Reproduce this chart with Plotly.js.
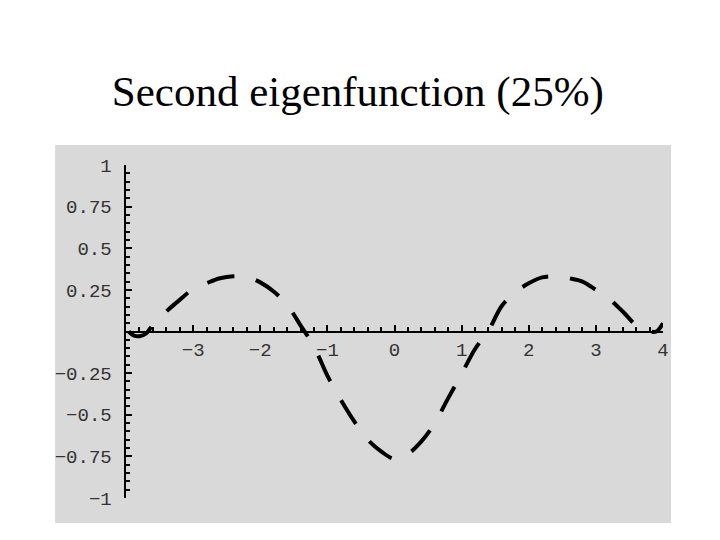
<!DOCTYPE html>
<html>
<head>
<meta charset="utf-8">
<script src="https://cdn.plot.ly/plotly-3.0.1.min.js"></script>
<style>
  body { margin: 0; background: #fff; }
  #chart { width: 720px; height: 540px; }
</style>
</head>
<body>
<div id="chart"></div>
<script>
// values
const xs = [-3.96, -3.88, -3.8, -3.7, -3.6, -3.4, -3.2, -3.0, -2.8, -2.6, -2.4, -2.2, -2.0, -1.8, -1.6, -1.4, -1.2,
    -1.0, -0.8, -0.6, -0.4, -0.2, 0, 0.2, 0.4, 0.6, 0.8, 1.0, 1.2, 1.4, 1.6, 1.8, 2.0, 2.2, 2.4, 2.6, 2.8,
    3.0, 3.2, 3.4, 3.6, 3.7, 3.8, 3.9, 4.0];
const ys = [0, -0.025, -0.028, -0.012, 0.04, 0.12, 0.19, 0.255, 0.29, 0.32, 0.332, 0.328, 0.295, 0.24, 0.16, 0.037, -0.09,
    -0.265, -0.41, -0.54, -0.65, -0.72, -0.765, -0.735, -0.66, -0.55, -0.40, -0.255, -0.105, 0.005, 0.155, 0.235,
    0.29, 0.325, 0.332, 0.32, 0.3, 0.25, 0.195, 0.12, 0.035, 0.008, 0.0, 0.0, 0.05];

const xTickVals = [-3, -2, -1, 0, 1, 2, 3, 4];
const xTickText = ['\u22123', '\u22122', '\u22121', '0', '1', '2', '3', '4'];
const yTickVals = [1, 0.75, 0.5, 0.25, -0.25, -0.5, -0.75, -1];
const yTickText = ['1', '0.75', '0.5', '0.25', '\u22120.25', '\u22120.5', '\u22120.75', '\u22121'];

const tickFont = {family: 'Liberation Mono, DejaVu Sans Mono, monospace', size: 19, color: '#333'};

const trace = {
    x: xs,
    y: ys,
    type: 'scatter',
    mode: 'lines',
    line: {color: '#000', width: 4, dash: '28px,22px', shape: 'spline'},
    hoverinfo: 'skip'
};

const layout = {
    width: 720,
    height: 540,
    paper_bgcolor: '#fff',
    plot_bgcolor: 'rgba(0,0,0,0)',
    margin: {l: 126, r: 57, t: 165, b: 42},
    showlegend: false,
    title: {
        text: 'Second eigenfunction (25%)',
        font: {family: 'Liberation Serif, Times New Roman, serif', size: 43, color: '#000'},
        xref: 'container', x: 0.497, xanchor: 'center',
        yref: 'container', y: 0.832, yanchor: 'middle'
    },
    xaxis: {
        range: [-4, 4],
        anchor: 'free', position: 0.5,
        showgrid: false, zeroline: false,
        showline: true, linecolor: '#000', linewidth: 2.5,
        tickmode: 'array', tickvals: xTickVals, ticktext: xTickText,
        ticks: 'inside', ticklen: 6, tickwidth: 2, tickcolor: '#000',
        minor: {tickmode: 'linear', tick0: 0, dtick: 0.2, ticks: 'inside', ticklen: 4, tickwidth: 2, tickcolor: '#000', showgrid: false},
        tickfont: tickFont,
        fixedrange: true
    },
    yaxis: {
        range: [-1, 1],
        showgrid: false, zeroline: false,
        showline: true, linecolor: '#000', linewidth: 2.5,
        tickmode: 'array', tickvals: yTickVals, ticktext: yTickText,
        ticks: 'inside', ticklen: 6, tickwidth: 2, tickcolor: '#000',
        minor: {tickmode: 'linear', tick0: 0, dtick: 0.05, ticks: 'inside', ticklen: 4, tickwidth: 2, tickcolor: '#000', showgrid: false},
        tickfont: tickFont,
        ticklabelstandoff: 8,
        fixedrange: true
    },
    shapes: [{
        type: 'rect', xref: 'paper', yref: 'paper',
        x0: -0.132, x1: 1.015, y0: -0.075, y1: 1.06,
        fillcolor: '#d9d9d9', line: {width: 0}, layer: 'below'
    }]
};

Plotly.newPlot('chart', [trace], layout, {displayModeBar: false, staticPlot: true});
</script>
</body>
</html>
